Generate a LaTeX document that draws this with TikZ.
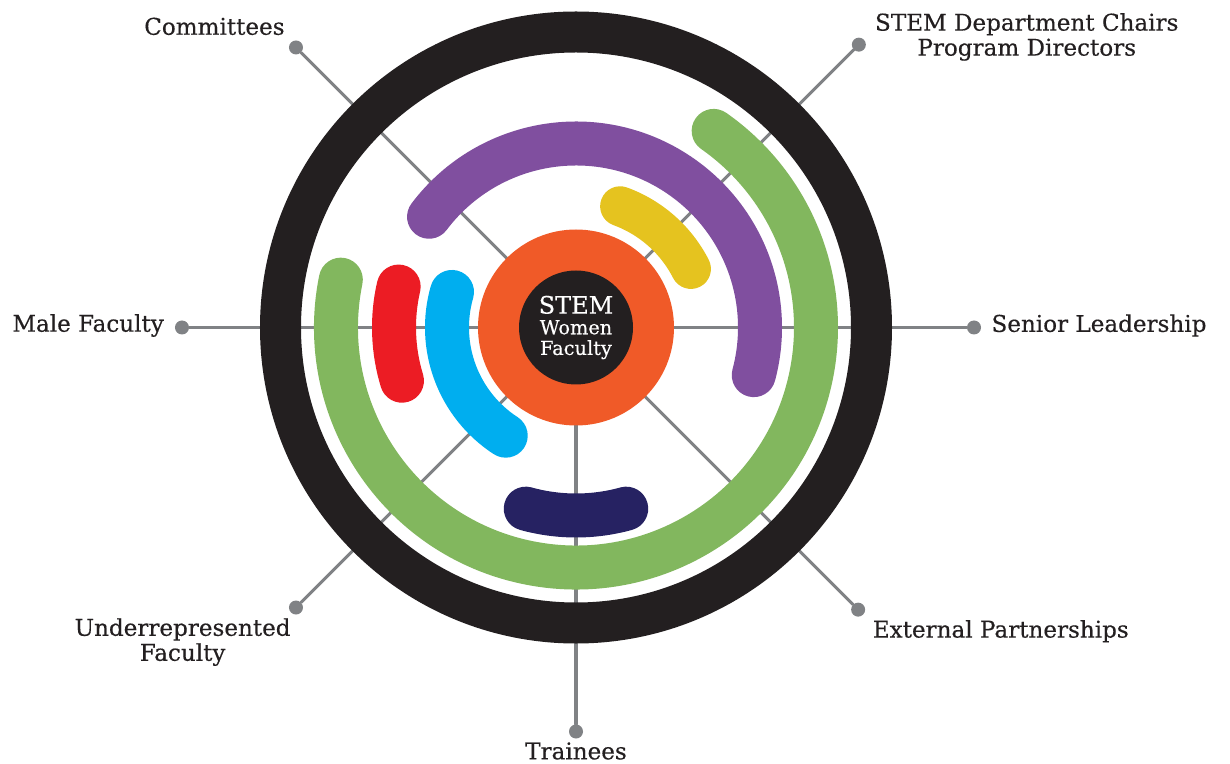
\documentclass[tikz,border=0pt]{standalone}
\usepackage{fontspec}
\setmainfont{DejaVu Serif}[FakeBold=0.4]
\usetikzlibrary{positioning}
\definecolor{ringblack}{HTML}{231F20}
\definecolor{spokegray}{HTML}{808285}
\definecolor{huborange}{HTML}{F05A28}
\definecolor{bandgreen}{HTML}{82B75E}
\definecolor{bandpurple}{HTML}{804F9F}
\definecolor{bandyellow}{HTML}{E5C31F}
\definecolor{bandred}{HTML}{EC1C24}
\definecolor{bandcyan}{HTML}{00AEEF}
\definecolor{bandnavy}{HTML}{262262}
\begin{document}
\begin{tikzpicture}[x=0.75pt, y=0.75pt, line cap=round, line join=round,
  font=\fontsize{17.3}{18.75}\selectfont,
  spoke/.style={spokegray, line width=2.3pt},
  dot/.style={circle, fill=spokegray, inner sep=0pt, minimum size=10.5pt},
  band/.style={line width=33pt},
  lbl/.style={inner sep=0pt, text=ringblack}]
\useasboundingbox (-576,-435.5) rectangle (654,327.5);
\def\ra{129} \def\rb{184} \def\rc{240}
\coordinate (hub) at (0,0);
\foreach \n/\a/\r in {sl/0/398, sc/45/400, co/135/396, mf/180/394, ur/225/396, tr/270/404, ep/315/399}
  {\node[dot] (\n) at (\a:\r) {}; \draw[spoke] (hub) -- (\n);}
\draw[ringblack, line width=30.75pt] (hub) circle[radius=295.5];
\draw[band, bandgreen] (168.5:\rc) arc[start angle=168.5, end angle=415, radius=\rc];
\draw[band, bandpurple] (143:\rb) arc[start angle=143, end angle=-15, radius=\rb];
\draw[band, bandred] (167:182) arc[start angle=167, end angle=197, radius=182];
\draw[band, bandnavy] (254.5:188) arc[start angle=254.5, end angle=285.5, radius=188];
\draw[band, bandcyan] (164:\ra) arc[start angle=164, end angle=237, radius=\ra];
\draw[band, bandyellow, line width=30pt] (70:\ra) arc[start angle=70, end angle=27, radius=\ra];
\node[circle, fill=huborange, minimum size=147pt, inner sep=0pt] (disk) at (hub) {};
\node[circle, fill=ringblack, minimum size=85.5pt, inner sep=0pt, text=white, align=center,
  font=\fontsize{14.5}{15.5}\selectfont] (core) at (hub)
  {{\fontsize{18}{15.5}\selectfont STEM}\\Women\\Faculty};
\node[lbl, above left=5.25pt and 4.5pt of co] (colbl) {Committees};
\node[lbl, align=center, right=6.5pt of sc, yshift=5.8pt] (sclbl) {STEM Department Chairs\\Program Directors};
\node[lbl, left=8pt of mf, yshift=1.5pt] (mflbl) {Male Faculty};
\node[lbl, right=7.5pt of sl, yshift=1.5pt] (sllbl) {Senior Leadership};
\node[lbl, align=center, below left=4pt and 0pt of ur] (urlbl) {Underrepresented\\Faculty};
\node[lbl, below right=3.75pt and 7pt of ep] (eplbl) {External Partnerships};
\node[lbl, below=2.5pt of tr] (trlbl) {Trainees};
\end{tikzpicture}
\end{document}
